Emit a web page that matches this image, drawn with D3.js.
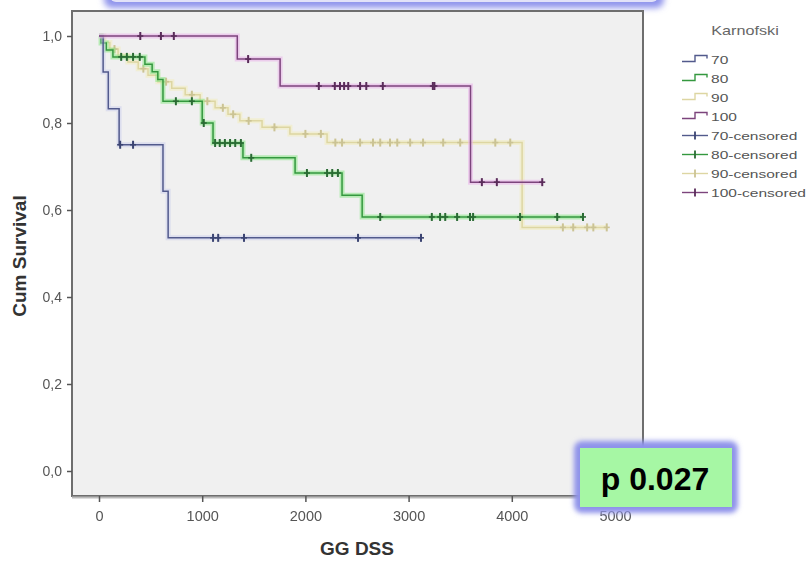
<!DOCTYPE html>
<html><head><meta charset="utf-8">
<script src="https://cdn.jsdelivr.net/npm/d3@7"></script>
<style>
html,body{margin:0;padding:0;background:#fff;}
svg{display:block;font-family:"Liberation Sans",Arial,sans-serif;}
</style></head>
<body>
<svg id="chart" width="811" height="562"></svg>
<script>
// ---- data (days, cumulative survival) ----
const groupNames = ["70", "80", "90", "100"];
const legendTitle = "Karnofski";
const xTicks = [0, 1000, 2000, 3000, 4000, 5000];
const yTicks = [0, 0.2, 0.4, 0.6, 0.8, 1.0];
const xTitle = "GG DSS";
const yTitle = "Cum Survival";
const pLabel = "p 0.027";

const time70 = [0, 40, 90, 195, 620, 670];
const surv70 = [1, 0.917, 0.833, 0.75, 0.643, 0.536];
const cens70 = [205, 330, 1105, 1155, 1405, 2510, 3120];

const time80 = [0, 20, 70, 135, 445, 515, 570, 620, 1000, 1105, 1395, 1900, 2355, 2550];
const surv80 = [1, 0.984, 0.968, 0.952, 0.935, 0.918, 0.9, 0.85, 0.8, 0.754, 0.72, 0.685, 0.634, 0.584];
const cens80 = [215, 270, 330, 395, 745, 900, 1015, 1125, 1170, 1220, 1270, 1320, 1375, 1475, 2015, 2210, 2260, 2315, 2725, 3225, 3305, 3355, 3470, 3595, 3625, 4080, 4440, 4690];

const time90 = [0, 50, 105, 185, 280, 380, 475, 570, 705, 835, 980, 1125, 1250, 1365, 1580, 1850, 2210, 4100];
const surv90 = [1, 0.985, 0.97, 0.955, 0.94, 0.925, 0.91, 0.895, 0.88, 0.865, 0.85, 0.835, 0.82, 0.805, 0.79, 0.775, 0.755, 0.56];
const cens90 = [150, 430, 650, 900, 1050, 1200, 1300, 1450, 1700, 2000, 2150, 2290, 2355, 2530, 2655, 2725, 2820, 2890, 3015, 3140, 3335, 3500, 3840, 3985, 4495, 4595, 4730, 4790, 4920];

const time100 = [0, 1340, 1755, 3600];
const surv100 = [1, 0.947, 0.885, 0.664];
const cens100 = [400, 600, 725, 1445, 2130, 2285, 2335, 2375, 2415, 2530, 2590, 2750, 3235, 3250, 3710, 3855, 4295];

// ---- styles ----
const styles = {
  "70":  {core: "#525a8c", halo: "#c3c7ea", haloOp: 0.45, mark: "#3b4472"},
  "80":  {core: "#34983f", halo: "#86e684", haloOp: 0.55, mark: "#2a6b34"},
  "90":  {core: "#ddd6a2", halo: "#f1edc6", haloOp: 0.7, mark: "#cbc394"},
  "100": {core: "#7c447c", halo: "#eab0ea", haloOp: 0.55, mark: "#5a2c5a"}
};

const series = [
  {name: "90", t: time90, s: surv90, c: cens90},
  {name: "80", t: time80, s: surv80, c: cens80},
  {name: "70", t: time70, s: surv70, c: cens70},
  {name: "100", t: time100, s: surv100, c: cens100}
];

const svg = d3.select("#chart");
const frame = {x: 72, y: 11, w: 571, h: 485};
const x = d3.scaleLinear().domain([0, 5000]).range([99, 615]);
const y = d3.scaleLinear().domain([0, 1]).range([471, 36]);

const defs = svg.append("defs");
defs.append("filter").attr("id", "blur3b").attr("x", "-20%").attr("y", "-40%").attr("width", "140%").attr("height", "180%")
  .append("feGaussianBlur").attr("stdDeviation", 2.5);
defs.append("filter").attr("id", "blur3").attr("x", "-20%").attr("y", "-100%").attr("width", "140%").attr("height", "300%")
  .append("feGaussianBlur").attr("stdDeviation", 3);
defs.append("filter").attr("id", "soft").append("feGaussianBlur").attr("stdDeviation", 0.5);

// top glowing strip (bottom of a box above the chart)
svg.append("rect").attr("x", 104).attr("y", -40).attr("width", 560).attr("height", 48).attr("rx", 8)
  .attr("fill", "#9094ec").attr("filter", "url(#blur3)");
svg.append("rect").attr("x", 110).attr("y", -40).attr("width", 548).attr("height", 42).attr("rx", 6)
  .attr("fill", "#e2e2f8");

// plot frame
svg.append("rect").attr("x", frame.x).attr("y", frame.y).attr("width", frame.w).attr("height", frame.h)
  .attr("fill", "#f0f0f0").attr("stroke", "#6e6e6e").attr("stroke-width", 2);
svg.append("line").attr("x1", frame.x).attr("x2", frame.x + frame.w).attr("y1", frame.y + frame.h + 1.5).attr("y2", frame.y + frame.h + 1.5)
  .attr("stroke", "#bbb").attr("stroke-width", 2);

// axes
const xAxis = d3.axisBottom(x).tickValues(xTicks).tickSize(6).tickPadding(9).tickFormat(d3.format("d"));
const gx = svg.append("g").attr("transform", `translate(0,${frame.y + frame.h})`).call(xAxis);
gx.select(".domain").remove();
gx.selectAll("line").attr("stroke", "#555").attr("stroke-width", 1.5);
gx.selectAll("text").attr("fill", "#555").attr("font-size", 14.5).attr("filter", "url(#soft)");

const yAxis = d3.axisLeft(y).tickValues(yTicks).tickSize(5).tickPadding(5)
  .tickFormat(d => d3.format(".1f")(d).replace(".", ","));
const gy = svg.append("g").attr("transform", `translate(${frame.x},0)`).call(yAxis);
gy.select(".domain").remove();
gy.selectAll("line").attr("stroke", "#555").attr("stroke-width", 1.5);
gy.selectAll("text").attr("fill", "#555").attr("font-size", 14).attr("filter", "url(#soft)");

// axis titles
svg.append("text").attr("x", 357).attr("y", 555).attr("text-anchor", "middle")
  .attr("font-size", 19).attr("font-weight", "bold").attr("fill", "#333").text(xTitle);
svg.append("text").attr("transform", "translate(26,256) rotate(-90)").attr("text-anchor", "middle")
  .attr("font-size", 19).attr("font-weight", "bold").attr("fill", "#333").text(yTitle);

// curves
function survAt(ts, ss, t) {
  let v = 1;
  for (let i = 0; i < ts.length; i++) if (ts[i] <= t) v = ss[i];
  return v;
}
const line = d3.line().x(d => x(d[0])).y(d => y(d[1])).curve(d3.curveStepAfter);

series.forEach(sr => {
  const st = styles[sr.name];
  const end = Math.max(d3.max(sr.c), d3.max(sr.t));
  const pts = sr.t.map((t, i) => [t, sr.s[i]]);
  pts.push([end, survAt(sr.t, sr.s, end)]);
  const g = svg.append("g");
  g.append("path").attr("d", line(pts)).attr("fill", "none").attr("stroke", st.halo)
    .attr("stroke-opacity", st.haloOp).attr("stroke-width", 5);
  g.append("path").attr("d", line(pts)).attr("fill", "none").attr("stroke", st.core)
    .attr("stroke-width", 1.5);
  const marks = g.selectAll("g.m").data(sr.c).join("g")
    .attr("transform", d => `translate(${x(d)},${y(survAt(sr.t, sr.s, d))})`);
  marks.append("line").attr("x1", 0).attr("x2", 0).attr("y1", -4).attr("y2", 4)
    .attr("stroke", st.mark).attr("stroke-width", 2);
  marks.append("line").attr("x1", -3).attr("x2", 3).attr("y1", 0).attr("y2", 0)
    .attr("stroke", st.mark).attr("stroke-width", 1.6);
});

// legend
const lg = svg.append("g");
lg.append("text").attr("transform", "translate(745,35) scale(1.35,1)").attr("text-anchor", "middle")
  .attr("font-size", 12).attr("fill", "#666").text(legendTitle);
const legendItems = groupNames.map(n => ({name: n, cens: false})).concat(groupNames.map(n => ({name: n, cens: true})));
legendItems.forEach((it, i) => {
  const cy = 59.5 + i * 19;
  const st = styles[it.name];
  if (!it.cens) {
    lg.append("path").attr("d", `M682,${cy + 2}H695V${cy - 4}H707V${cy - 1}`)
      .attr("fill", "none").attr("stroke", st.core).attr("stroke-width", 1.4);
  } else {
    lg.append("line").attr("x1", 682).attr("x2", 708).attr("y1", cy).attr("y2", cy)
      .attr("stroke", st.core).attr("stroke-width", 1.4);
    lg.append("line").attr("x1", 695).attr("x2", 695).attr("y1", cy - 4).attr("y2", cy + 4)
      .attr("stroke", st.mark).attr("stroke-width", 1.8);
  }
  lg.append("text").attr("transform", `translate(711,${cy + 4}) scale(1.35,1)`)
    .attr("font-size", 11.5).attr("fill", "#555")
    .text(it.cens ? it.name + "-censored" : it.name);
});

// p-value box with blue glow
svg.append("rect").attr("x", 574).attr("y", 441).attr("width", 164).attr("height", 72).attr("rx", 8)
  .attr("fill", "#8f93ea").attr("filter", "url(#blur3b)");
svg.append("rect").attr("x", 580).attr("y", 448).attr("width", 152).attr("height", 59)
  .attr("fill", "#a6f7a4");
svg.append("text").attr("x", 655).attr("y", 490).attr("text-anchor", "middle")
  .attr("font-size", 32).attr("font-weight", "bold").attr("fill", "#000").text(pLabel);
</script>
</body></html>
